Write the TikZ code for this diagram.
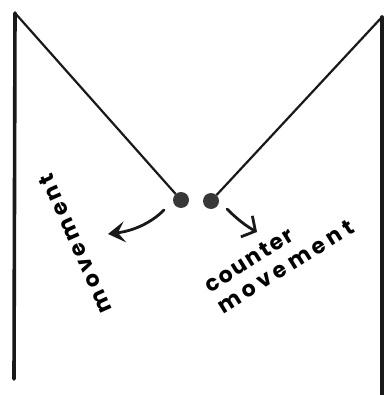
\documentclass[tikz,border=0pt]{standalone}
\usepackage{fontspec}
\setmainfont{Poppins}
\usetikzlibrary{arrows.meta}
\begin{document}
\begin{tikzpicture}[x=1pt,y=-1pt,
  wall/.style={line width=3.6pt, line cap=round, draw=black!90},
  rope/.style={line width=2.2pt, draw=black!90},
  bob/.style={circle, fill=black!78, inner sep=0pt, minimum size=16pt},
  arr/.style={line width=2.8pt, line cap=round, draw=black!90},
  lbl/.style={font=\fontsize{22}{25}\selectfont\bfseries, inner sep=0pt}
]
\useasboundingbox (0,0) rectangle (384,395);
\coordinate (lt) at (15,13);
\coordinate (lb) at (14,379);
\coordinate (rt) at (382,17);
\coordinate (rb) at (382,395);
\node[bob] (bl) at (181,200) {};
\node[bob] (br) at (211,201) {};
\draw[wall] (lb) -- (lt);
\draw[wall] (rb) -- (rt);
\draw[rope] (lt) -- (bl);
\draw[rope] (rt) -- (br);
\coordinate (a1s) at (164,210);
\coordinate (a1e) at (108,234);
\coordinate (a2s) at (227,209);
\coordinate (a2e) at (257,232);
\draw[arr, -{Stealth[length=17pt,width=21pt,inset=7pt]}] (a1s) .. controls (150,224) and (132,231) .. (a1e);
\draw[arr, -{Straight Barb[length=10pt,width=24pt,line width=2.8pt]}] (a2s) .. controls (237,219) and (246,226) .. (a2e);
\node[lbl, rotate=114] (mv) at (75,244) {\addfontfeature{LetterSpace=16}movement};
\node[lbl, rotate=32, align=left] (cm) at (279,256)
  {\addfontfeature{LetterSpace=9}counter\\\addfontfeature{LetterSpace=20}movement};
\end{tikzpicture}
\end{document}
